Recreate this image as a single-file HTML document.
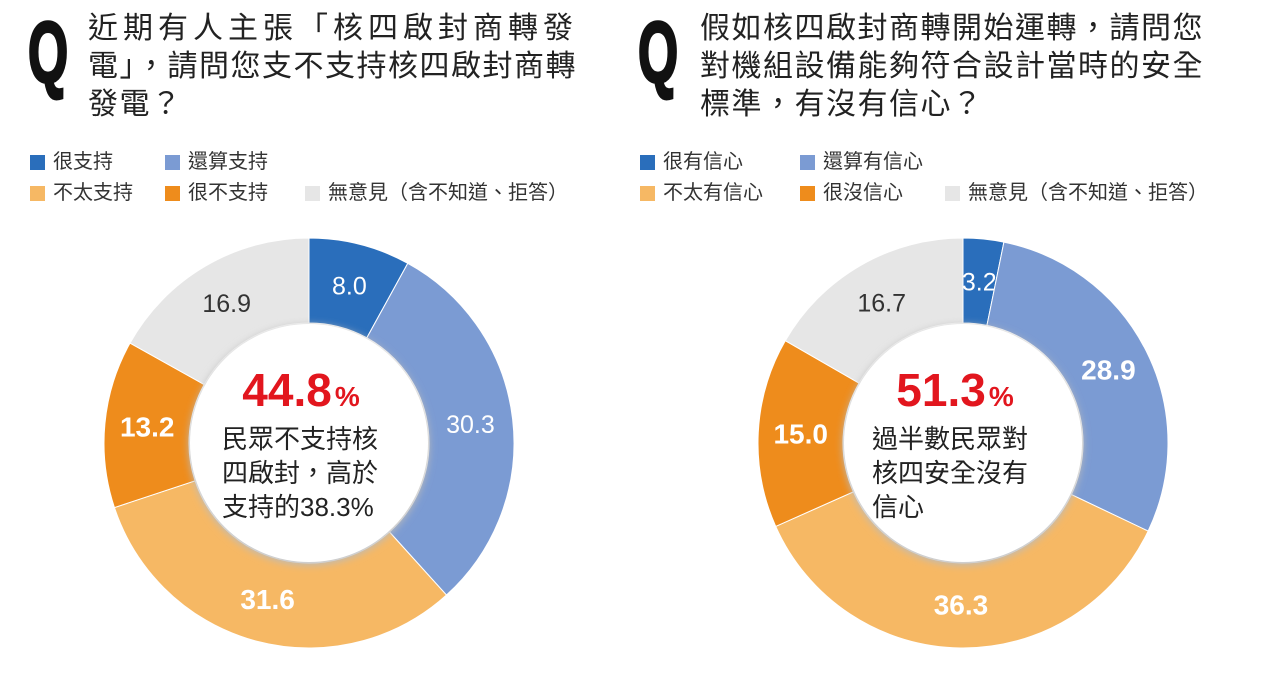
<!DOCTYPE html>
<html><head><meta charset="utf-8"><style>
body{margin:0;width:1280px;height:698px;background:#fff;overflow:hidden;font-family:"Liberation Sans","Noto Sans CJK TC",sans-serif;position:relative}
.q{position:absolute;top:8px;font-size:86px;font-weight:bold;color:#111;transform:scaleX(0.6);transform-origin:left top;line-height:90px;-webkit-text-stroke:3px #111}
.title{position:absolute;top:10px;font-size:30px;line-height:38px;color:#222;letter-spacing:1.5px}
.leg{position:absolute;font-size:20px;color:#333;display:flex;align-items:center;line-height:22px}
.leg i{display:inline-block;width:15px;height:15px;margin-right:8px}
svg{position:absolute;left:0;top:0}
</style></head><body>
<div class="q" style="left:28px">Q</div>
<div class="title" style="left:88px"><span style="letter-spacing:5px">近期有人主張「核四啟封商轉發</span><br>電」，請問您支不支持核四啟封商轉<br>發電？</div>
<div class="q" style="left:638px">Q</div>
<div class="title" style="left:700px">假如核四啟封商轉開始運轉，請問您<br>對機組設備能夠符合設計當時的安全<br>標準，有沒有信心？</div>

<div class="leg" style="left:30px;top:151px"><i style="background:#2a6ebb"></i>很支持</div>
<div class="leg" style="left:165px;top:151px"><i style="background:#7b9bd3"></i>還算支持</div>
<div class="leg" style="left:30px;top:182px"><i style="background:#f6b864"></i>不太支持</div>
<div class="leg" style="left:165px;top:182px"><i style="background:#ee8c1c"></i>很不支持</div>
<div class="leg" style="left:305px;top:182px"><i style="background:#e6e6e6"></i>無意見（含不知道、拒答）</div>

<div class="leg" style="left:640px;top:151px"><i style="background:#2a6ebb"></i>很有信心</div>
<div class="leg" style="left:800px;top:151px"><i style="background:#7b9bd3"></i>還算有信心</div>
<div class="leg" style="left:640px;top:182px"><i style="background:#f6b864"></i>不太有信心</div>
<div class="leg" style="left:800px;top:182px"><i style="background:#ee8c1c"></i>很沒信心</div>
<div class="leg" style="left:945px;top:182px"><i style="background:#e6e6e6"></i>無意見（含不知道、拒答）</div>

<svg id="chart" width="1280" height="698">
<defs><filter id="sh" x="-20%" y="-20%" width="140%" height="140%"><feGaussianBlur stdDeviation="4"/></filter></defs>
</svg>
<script>
const categories = ["很","還算","不太","很不","無意見"];
const valuesLeft = [8.0, 30.3, 31.6, 13.2, 16.9];
const valuesRight = [3.2, 28.9, 36.3, 15.0, 16.7];
const labelsLeft = ["8.0","30.3","31.6","13.2","16.9"];
const labelsRight = ["3.2","28.9","36.3","15.0","16.7"];
const colors = ["#2a6ebb","#7b9bd3","#f6b864","#ee8c1c","#e6e6e6"];
const boldLeft = [false,false,true,true,false];
const boldRight = [false,true,true,true,false];
const svg = document.getElementById('chart');
const NS = 'http://www.w3.org/2000/svg';
function pt(cx,cy,r,a){return [cx+r*Math.sin(a), cy-r*Math.cos(a)];}
function donut(cx,cy,vals,labels,bold,name,center){
  const R=205, r=120, total=vals.reduce((a,b)=>a+b,0);
  let acc=0;
  vals.forEach((v,i)=>{
    const a0=acc/total*2*Math.PI, a1=(acc+v)/total*2*Math.PI; acc+=v;
    const large=(a1-a0)>Math.PI?1:0;
    const p0=pt(cx,cy,R,a0),p1=pt(cx,cy,R,a1),q1=pt(cx,cy,r,a1),q0=pt(cx,cy,r,a0);
    const p=document.createElementNS(NS,'path');
    p.setAttribute('d',`M${p0[0]},${p0[1]}A${R},${R} 0 ${large} 1 ${p1[0]},${p1[1]}L${q1[0]},${q1[1]}A${r},${r} 0 ${large} 0 ${q0[0]},${q0[1]}Z`);
    p.setAttribute('fill',colors[i]);p.setAttribute('stroke','#fff');p.setAttribute('stroke-width','1');
    
    
    svg.appendChild(p);
    const m=pt(cx,cy,(R+r)/2,(a0+a1)/2);
    const t=document.createElementNS(NS,'text');
    t.setAttribute('x',m[0]);t.setAttribute('y',m[1]+9);t.setAttribute('text-anchor','middle');
    t.setAttribute('font-size',bold[i]?'28':'25');t.setAttribute('font-weight',bold[i]?'bold':'normal');
    t.setAttribute('fill',i===4?'#333':'#fff');t.setAttribute('font-family','Liberation Sans, sans-serif');
    t.textContent=labels[i];
    
    
    svg.appendChild(t);
  });
  const s=document.createElementNS(NS,'circle');
  s.setAttribute('cx',cx);s.setAttribute('cy',cy+2);s.setAttribute('r',r);s.setAttribute('fill','#bbb');s.setAttribute('filter','url(#sh)');
  svg.appendChild(s);
  const c=document.createElementNS(NS,'circle');
  c.setAttribute('cx',cx);c.setAttribute('cy',cy);c.setAttribute('r',r-1);c.setAttribute('fill','#fff');
  
  
  svg.appendChild(c);
  const h=document.createElementNS(NS,'text');
  h.setAttribute('x',cx-8);h.setAttribute('y',cy-37);h.setAttribute('text-anchor','middle');
  h.setAttribute('fill','#e2161e');h.setAttribute('font-weight','bold');h.setAttribute('font-size','46');h.setAttribute('font-family','Liberation Sans, sans-serif');
  h.innerHTML=center[0]+'<tspan font-size="28" dx="3">%</tspan>';
  
  
  svg.appendChild(h);
  center.slice(1).forEach((ln,k)=>{
    const t=document.createElementNS(NS,'text');
    t.setAttribute('x',center.align);t.setAttribute('y',cy+5+k*34);
    t.setAttribute('font-size','26');t.setAttribute('fill','#222');
    t.setAttribute('font-family','Liberation Sans, Noto Sans CJK TC, sans-serif');
    t.textContent=ln;
    
    
    svg.appendChild(t);
  });
}
const cL=["44.8","民眾不支持核","四啟封，高於","支持的38.3%"];cL.align=222;
const cR=["51.3","過半數民眾對","核四安全沒有","信心"];cR.align=872;
donut(309,443,valuesLeft,labelsLeft,boldLeft,'left-donut',cL);
donut(963,443,valuesRight,labelsRight,boldRight,'right-donut',cR);
</script>
</body></html>
